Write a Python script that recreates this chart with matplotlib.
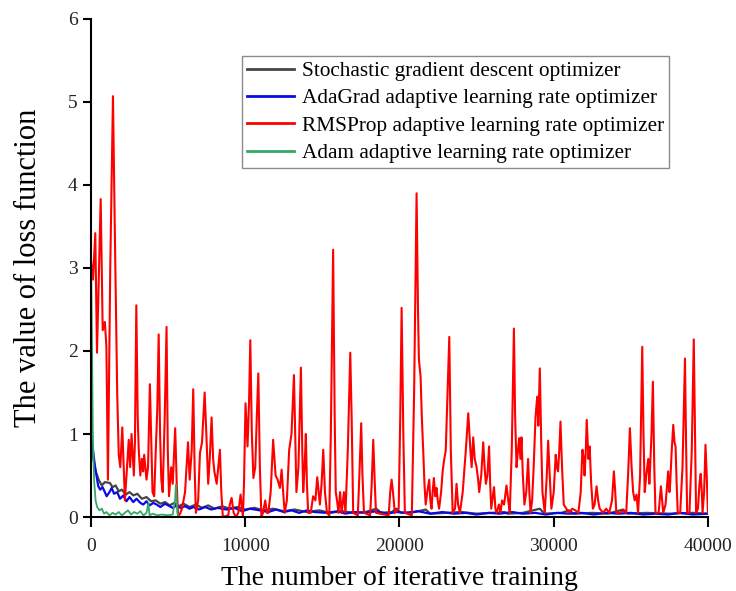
import matplotlib.pyplot as plt

plt.rcParams['font.family'] = ['Liberation Serif', 'DejaVu Serif']

# 随机梯度下降
sgd_x = [0, 150, 300, 500, 700, 900, 1230, 1400, 1600, 1800, 2000, 2250, 2500, 2750,
         3000, 3300, 3600, 3900, 4200, 4500, 4800, 5100, 5400, 5700, 6000, 6400, 6800,
         7200, 7600, 8000, 8500, 9000, 9500, 10000, 10600, 11200, 11800, 12500, 13200,
         14000, 14800, 15500, 16300, 17000, 17800, 18500, 18800, 19500, 19800, 20100,
         21000, 21700, 22000, 23000, 24000, 25000, 26000, 26800, 27000, 28000, 29100,
         29400, 30500, 31000, 31300, 32500, 33500, 34500, 34800, 36000, 37500, 39000, 40000]
sgd_y = [0.95, 0.7, 0.55, 0.45, 0.38, 0.42, 0.41, 0.36, 0.38, 0.31, 0.33, 0.27, 0.3, 0.26,
         0.28, 0.22, 0.24, 0.19, 0.2, 0.16, 0.18, 0.14, 0.17, 0.13, 0.16, 0.12, 0.15,
         0.11, 0.14, 0.1, 0.13, 0.1, 0.12, 0.09, 0.11, 0.08, 0.1, 0.07, 0.09,
         0.06, 0.08, 0.05, 0.07, 0.05, 0.06, 0.1, 0.05, 0.06, 0.1, 0.05,
         0.06, 0.09, 0.04, 0.05, 0.06, 0.04, 0.05, 0.06, 0.04, 0.05, 0.1,
         0.04, 0.05, 0.08, 0.04, 0.05, 0.04, 0.09, 0.04, 0.05, 0.04, 0.05, 0.04]

# AdaGrad
ada_x = [0, 100, 260, 400, 475, 600, 750, 900, 1015, 1200, 1340, 1500, 1700, 1880, 2100,
         2300, 2500, 2745, 2950, 3200, 3390, 3600, 3800, 4050, 4255, 4500, 4800, 5100,
         5300, 5550, 5800, 6100, 6400, 6630, 7000, 7400, 7800, 8200, 8790, 9300, 9800,
         10300, 10950, 11500, 12000, 12500, 13000, 13500, 14000, 14500, 15280, 16000,
         16500, 17000, 17800, 18500, 19200, 19800, 20500, 21200, 22000, 22800, 23500,
         24300, 25000, 25800, 26500, 27300, 28000, 28800, 29500, 30200, 31000, 31800,
         32600, 33400, 34200, 35000, 35800, 36600, 37400, 38200, 39000, 40000]
ada_y = [1.13, 0.85, 0.61, 0.45, 0.37, 0.33, 0.36, 0.3, 0.25, 0.3, 0.35, 0.28, 0.3, 0.22, 0.26,
         0.19, 0.24, 0.18, 0.22, 0.17, 0.15, 0.19, 0.14, 0.17, 0.15, 0.12, 0.16, 0.13,
         0.11, 0.14, 0.11, 0.13, 0.1, 0.12, 0.09, 0.12, 0.09, 0.11, 0.09, 0.11, 0.07,
         0.1, 0.08, 0.06, 0.09, 0.06, 0.08, 0.05, 0.08, 0.06, 0.05, 0.07,
         0.04, 0.06, 0.05, 0.07, 0.04, 0.06, 0.05, 0.07, 0.04, 0.06, 0.04,
         0.05, 0.03, 0.05, 0.04, 0.06, 0.04, 0.05, 0.03, 0.05, 0.04, 0.05,
         0.03, 0.05, 0.04, 0.05, 0.03, 0.04, 0.03, 0.05, 0.03, 0.04]

# RMSProp: (迭代次数, 损失值)
rms_points = [
    (0, 3.1), (130, 2.86), (280, 3.42), (390, 1.98), (630, 3.83), (760, 2.25), (900, 2.35),
    (1000, 2.05), (1100, 0.45), (1250, 3.0), (1426, 5.07), (1550, 3.4), (1700, 1.5),
    (1800, 0.75), (1900, 0.6), (2030, 1.08), (2200, 0.2), (2450, 0.93), (2540, 0.6),
    (2630, 1.0), (2780, 0.5), (2850, 0.9), (2940, 2.55), (3030, 1.2), (3100, 0.8),
    (3200, 0.5), (3300, 0.7), (3380, 0.55), (3450, 0.75), (3600, 0.45), (3700, 0.6),
    (3820, 1.6), (3990, 0.3), (4100, 0.25), (4200, 0.8), (4300, 1.3), (4390, 2.2),
    (4480, 1.0), (4560, 0.45), (4650, 0.3), (4780, 1.2), (4900, 2.29), (4980, 0.8),
    (5060, 0.25), (5200, 0.6), (5300, 0.4), (5460, 1.07), (5560, 0.4), (5650, 0.0),
    (5800, 0.05), (5900, 0.1), (6100, 0.3), (6290, 0.9), (6400, 0.45), (6530, 0.8),
    (6630, 1.54), (6720, 0.6), (6800, 0.05), (6950, 0.2), (7065, 0.77), (7200, 0.9),
    (7370, 1.5), (7480, 1.0), (7600, 0.4), (7700, 0.7), (7820, 1.2), (7920, 0.7),
    (8000, 0.55), (8150, 0.4), (8250, 0.6), (8360, 0.81), (8450, 0.3), (8550, 0.0),
    (8900, 0.02), (9000, 0.15), (9120, 0.23), (9250, 0.05), (9400, 0.0), (9550, 0.05),
    (9700, 0.27), (9850, 0.0), (9920, 0.4), (10020, 1.37), (10150, 0.85), (10250, 1.4),
    (10330, 2.13), (10430, 1.0), (10530, 0.47), (10650, 0.6), (10750, 1.2), (10850, 1.73),
    (10950, 0.6), (11050, 0.0), (11150, 0.05), (11300, 0.2), (11400, 0.05), (11500, 0.05),
    (11650, 0.3), (11810, 0.93), (11970, 0.5), (12100, 0.45), (12250, 0.35), (12360, 0.57),
    (12460, 0.3), (12560, 0.05), (12700, 0.2), (12850, 0.81), (13000, 1.0), (13160, 1.71),
    (13250, 0.9), (13320, 0.3), (13450, 0.6), (13610, 1.8), (13700, 0.8), (13760, 0.3),
    (13850, 0.6), (13930, 1.0), (14000, 0.4), (14080, 0.05), (14250, 0.05), (14400, 0.25),
    (14550, 0.2), (14670, 0.48), (14760, 0.3), (14840, 0.15), (14950, 0.4), (15060, 0.81),
    (15170, 0.3), (15300, 0.05), (15450, 0.02), (15550, 1.0), (15700, 3.22), (15800, 1.2),
    (15870, 0.3), (15950, 0.2), (16050, 0.05), (16150, 0.3), (16250, 0.05), (16400, 0.3),
    (16500, 0.05), (16650, 0.8), (16810, 1.98), (16900, 1.2), (17000, 0.05), (17300, 0.02),
    (17400, 0.5), (17520, 1.13), (17600, 0.5), (17700, 0.05), (18100, 0.02), (18200, 0.4),
    (18300, 0.93), (18400, 0.4), (18480, 0.05), (19300, 0.02), (19400, 0.3), (19490, 0.45),
    (19580, 0.3), (19700, 0.05), (19950, 0.1), (20050, 1.2), (20140, 2.52), (20250, 1.0),
    (20350, 0.05), (20800, 0.02), (20950, 1.5), (21110, 3.9), (21200, 2.5), (21260, 1.9),
    (21370, 1.69), (21450, 1.2), (21540, 0.8), (21620, 0.4), (21700, 0.15), (21800, 0.3),
    (21930, 0.45), (22000, 0.2), (22080, 0.1), (22150, 0.3), (22230, 0.47), (22320, 0.25),
    (22400, 0.35), (22480, 0.2), (22570, 0.1), (22700, 0.3), (22800, 0.55), (22880, 0.67),
    (23000, 0.8), (23120, 1.5), (23230, 2.17), (23330, 0.8), (23450, 0.05), (23600, 0.1),
    (23700, 0.4), (23800, 0.15), (23920, 0.05), (24100, 0.3), (24300, 0.8), (24460, 1.25),
    (24600, 0.8), (24680, 0.6), (24780, 0.96), (24880, 0.7), (25000, 0.6), (25100, 0.45),
    (25170, 0.3), (25300, 0.5), (25430, 0.9), (25520, 0.6), (25600, 0.4), (25700, 0.5),
    (25810, 0.85), (25880, 0.4), (25950, 0.1), (26130, 0.36), (26220, 0.1), (26300, 0.05),
    (26450, 0.15), (26550, 0.05), (26650, 0.2), (26780, 0.15), (26940, 0.38), (27050, 0.2),
    (27150, 0.05), (27280, 0.8), (27420, 2.27), (27500, 1.2), (27590, 0.6), (27680, 0.8),
    (27760, 0.95), (27840, 0.7), (27910, 0.96), (28000, 0.5), (28100, 0.15), (28220, 0.3),
    (28340, 0.7), (28420, 0.3), (28500, 0.05), (28600, 0.2), (28700, 0.6), (28820, 1.2),
    (28930, 1.45), (29000, 1.1), (29100, 1.79), (29190, 0.9), (29270, 0.3), (29420, 0.05),
    (29550, 0.5), (29640, 0.92), (29740, 0.5), (29850, 0.1), (30000, 0.3), (30130, 0.75),
    (30200, 0.6), (30280, 0.55), (30360, 0.8), (30440, 1.15), (30540, 0.6), (30650, 0.15),
    (30820, 0.1), (31000, 0.05), (31200, 0.1), (31400, 0.08), (31600, 0.05), (31750, 0.3),
    (31860, 0.81), (31950, 0.7), (32000, 0.5), (32080, 0.8), (32140, 1.17), (32200, 0.9),
    (32250, 0.7), (32330, 0.85), (32430, 0.4), (32540, 0.1), (32650, 0.15), (32780, 0.37),
    (32880, 0.2), (32980, 0.1), (33200, 0.05), (33400, 0.1), (33600, 0.05), (33780, 0.2),
    (33900, 0.55), (33990, 0.3), (34060, 0.05), (34300, 0.05), (34500, 0.08), (34700, 0.05),
    (34820, 0.5), (34940, 1.07), (35050, 0.6), (35150, 0.3), (35250, 0.2), (35370, 0.27),
    (35470, 0.05), (35600, 0.5), (35740, 2.05), (35820, 1.0), (35900, 0.3), (36000, 0.5),
    (36130, 0.7), (36200, 0.4), (36250, 0.6), (36340, 1.0), (36430, 1.63), (36520, 0.6),
    (36600, 0.05), (36800, 0.05), (36950, 0.37), (37030, 0.2), (37100, 0.05), (37250, 0.15),
    (37420, 0.55), (37500, 0.3), (37550, 0.4), (37650, 0.8), (37750, 1.11), (37830, 0.9),
    (37900, 0.85), (37970, 0.4), (38040, 0.05), (38200, 0.05), (38350, 0.6), (38510, 1.91),
    (38580, 0.9), (38650, 0.05), (38800, 0.05), (38950, 0.8), (39080, 2.14), (39150, 1.2),
    (39230, 0.05), (39350, 0.1), (39450, 0.4), (39530, 0.52), (39600, 0.3), (39650, 0.05),
    (39750, 0.3), (39840, 0.87), (39920, 0.5), (40000, 0.05),
]
rms_x = [p[0] for p in rms_points]
rms_y = [p[1] for p in rms_points]

# Adam
adam_x = [0, 60, 120, 200, 300, 400, 550, 700, 850, 1000, 1200, 1400, 1600, 1800, 2000,
          2200, 2400, 2600, 2800, 3000, 3200, 3400, 3600, 3720, 3800, 4000, 4300, 4600,
          5000, 5300, 5450, 5510, 5600, 5700, 40000]
adam_y = [3.15, 2.2, 1.0, 0.45, 0.2, 0.12, 0.08, 0.1, 0.04, 0.06, 0.02, 0.05, 0.03, 0.06, 0.02,
          0.05, 0.08, 0.03, 0.06, 0.04, 0.07, 0.02, 0.05, 0.17, 0.02, 0.04, 0.02, 0.03,
          0.02, 0.03, 0.2, 0.39, 0.05, 0.0, 0.0]

labels = ['Stochastic gradient descent optimizer',
          'AdaGrad adaptive learning rate optimizer',
          'RMSProp adaptive learning rate optimizer',
          'Adam adaptive learning rate optimizer']

fig = plt.figure(figsize=(7.36, 5.91), dpi=100)
ax = fig.add_axes([0.1236, 0.1252, 0.8383, 0.8427])

ax.plot(sgd_x, sgd_y, color='#454545', linewidth=1.6, label=labels[0])
ax.plot(ada_x, ada_y, color='#0a0ae6', linewidth=1.6, label=labels[1])
ax.plot(rms_x, rms_y, color='#ff0000', linewidth=1.5, label=labels[2])
ax.plot(adam_x, adam_y, color='#33a867', linewidth=1.3, label=labels[3], clip_on=False)

ax.set_xlim(0, 40000)
ax.set_ylim(0, 6)
ax.set_xticks([0, 10000, 20000, 30000, 40000])
ax.set_yticks([0, 1, 2, 3, 4, 5, 6])

for s in ['top', 'right']:
    ax.spines[s].set_visible(False)
for s in ['left', 'bottom']:
    ax.spines[s].set_linewidth(1.5)
ax.tick_params(direction='out', length=6, width=1.5, labelsize=14, colors='black',
               labelcolor='#222222')
ax.tick_params(axis='x', length=7, pad=8)

ax.set_xlabel('The number of iterative training', fontsize=20, labelpad=8)
ax.set_ylabel('The value of loss function', fontsize=22)
ax.yaxis.set_label_coords(-0.078, 0.5)

leg = ax.legend(loc='upper left', bbox_to_anchor=(242 / 736, 1 - 56 / 591),
                bbox_transform=fig.transFigure, fontsize=15.3, frameon=True,
                fancybox=False, edgecolor='#707070', handlelength=2.2,
                handletextpad=0.35, labelspacing=0.35, borderpad=0.25,
                borderaxespad=0)
leg.get_frame().set_linewidth(1.0)
for line in leg.get_lines():
    line.set_linewidth(2.0)

plt.savefig('out.png', dpi=100)
